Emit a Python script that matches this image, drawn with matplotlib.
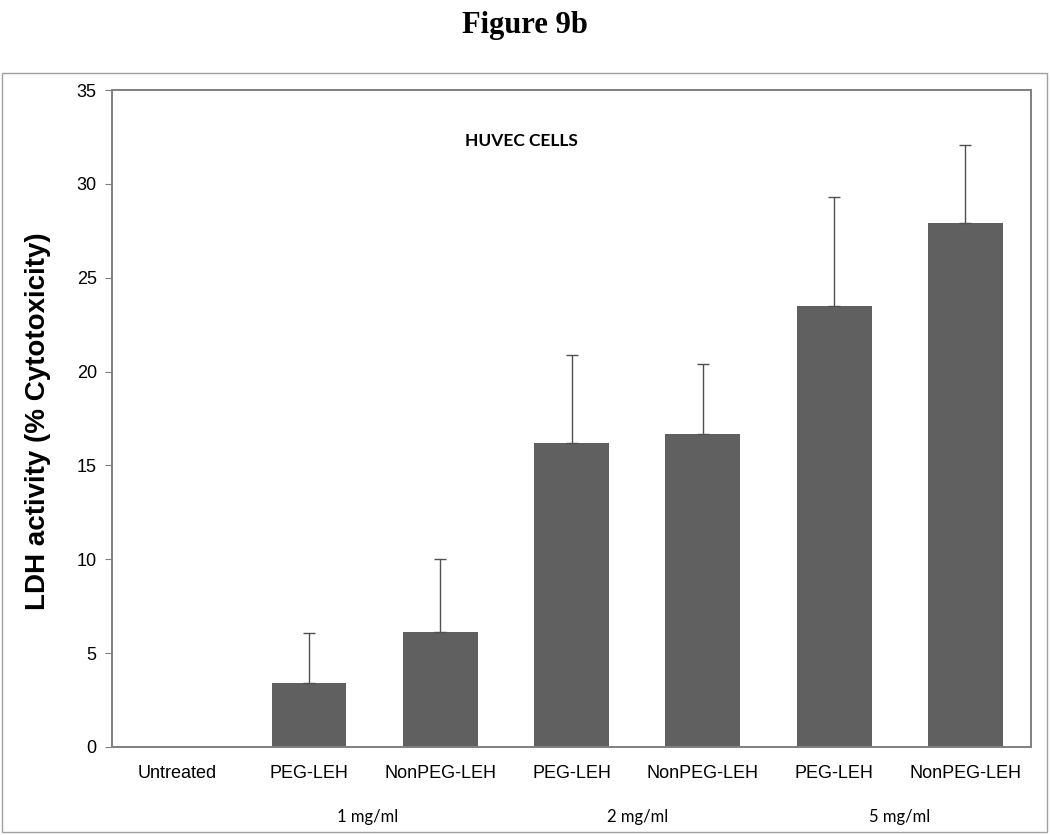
import matplotlib.pyplot as plt
from matplotlib.patches import Rectangle

# data
categories = ['Untreated', 'PEG-LEH', 'NonPEG-LEH', 'PEG-LEH', 'NonPEG-LEH', 'PEG-LEH', 'NonPEG-LEH']
values = [0, 3.4, 6.15, 16.2, 16.7, 23.5, 27.9]
err_up = [0, 2.65, 3.85, 4.7, 3.7, 5.8, 4.15]
doses = ['1 mg/ml', '2 mg/ml', '5 mg/ml']
dose_pos = [1.45, 3.5, 5.5]

fig = plt.figure(figsize=(10.5, 8.35), dpi=100)
ax = fig.add_axes([0.1067, 0.1054, 0.8753, 0.7868])

x = list(range(len(categories)))
ax.bar(x, values, width=0.57, color='#606060')
# only the treated bars carry an upper error bar
xs = [i for i in x if values[i] > 0]
ax.errorbar(xs, [values[i] for i in xs],
            yerr=[[0] * len(xs), [err_up[i] for i in xs]],
            fmt='none', ecolor='#505050', elinewidth=1, capsize=4, capthick=1)

ax.set_xlim(-0.5, 6.5)
ax.set_ylim(0, 35)
ax.set_yticks(range(0, 36, 5))
ax.set_xticks(x)
ax.set_xticklabels(categories, fontfamily='Liberation Sans', fontsize=13)
ax.tick_params(axis='x', length=0, pad=13)
ax.tick_params(axis='y', direction='out', length=5, color='#808080', labelsize=13, pad=6)
for lab in ax.get_yticklabels():
    lab.set_fontfamily('Liberation Sans')
for s in ax.spines.values():
    s.set_color('#808080')
    s.set_linewidth(1.4)

fig.text(38 / 1050, 1 - 421 / 835, 'LDH activity (% Cytotoxicity)', fontfamily='Liberation Sans',
         fontweight='bold', fontsize=20, rotation=90, ha='center', va='center')

ax.text(2.62, 32.3, 'HUVEC CELLS', fontfamily='Lato', fontweight='bold',
        fontsize=12.5, ha='center', va='center')

for d, p in zip(doses, dose_pos):
    ax.text(p, -3.75, d, fontfamily='Lato', fontsize=12, ha='center', va='center')

# outer border of the chart area
fig.patches.append(Rectangle((0.002, 0.003), 0.995, 0.91, transform=fig.transFigure,
                             fill=False, edgecolor='#a0a0a0', linewidth=1))

fig.text(0.5, 0.97, 'Figure 9b', fontfamily='Liberation Serif', fontweight='bold',
         fontsize=22, ha='center', va='center')

plt.savefig('out.png', dpi=100)
